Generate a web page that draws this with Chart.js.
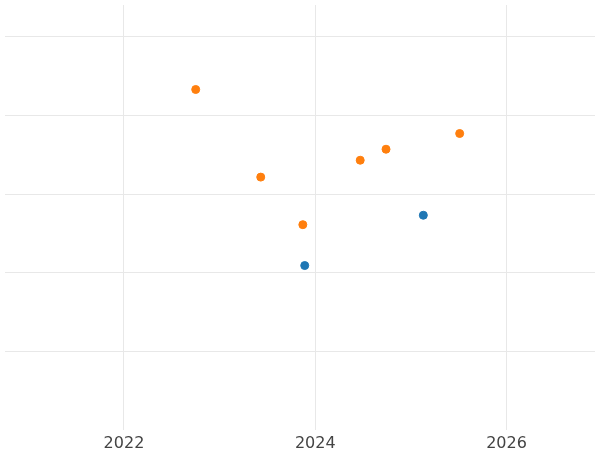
<!DOCTYPE html>
<html><head><style>html,body{margin:0;padding:0;background:#fff}#w{width:600px;height:450px}</style>
<script src="https://cdn.jsdelivr.net/npm/chart.js@4"></script></head>
<body><div id="w"><canvas id="c"></canvas></div>
<script>
const xTicks=[2022,2024,2026];
const yTicks=[1,2,3,4,5];
const seriesA=[{x:2023.89,y:2.09},{x:2025.13,y:2.73}];
const seriesB=[{x:2022.75,y:4.33},{x:2023.43,y:3.215},{x:2023.87,y:2.61},{x:2024.47,y:3.43},{x:2024.74,y:3.57},{x:2025.51,y:3.77}];
new Chart(document.getElementById('c'),{type:'scatter',
data:{datasets:[
{data:seriesA,backgroundColor:'#1f77b4',borderColor:'#1f77b4',pointRadius:4,pointHoverRadius:4},
{data:seriesB,backgroundColor:'#ff7f0e',borderColor:'#ff7f0e',pointRadius:4,pointHoverRadius:4}]},
options:{responsive:true,maintainAspectRatio:false,animation:false,layout:{padding:{left:-5,right:-5,top:-5,bottom:-7}},
plugins:{legend:{display:false},tooltip:{enabled:false}},
scales:{
x:{type:'linear',min:2020.756,max:2026.925,afterBuildTicks:a=>{a.ticks=xTicks.map(v=>({value:v}));},
grid:{color:'#e8e8e8',drawTicks:false},border:{display:false},
ticks:{font:{family:'DejaVu Sans',size:16},color:'#444',padding:4,callback:v=>String(v)}},
y:{min:0,max:5.405,afterBuildTicks:a=>{a.ticks=yTicks.map(v=>({value:v}));},
grid:{color:'#e8e8e8',drawTicks:false},border:{display:false},ticks:{display:false}}
}}});
</script></body></html>
